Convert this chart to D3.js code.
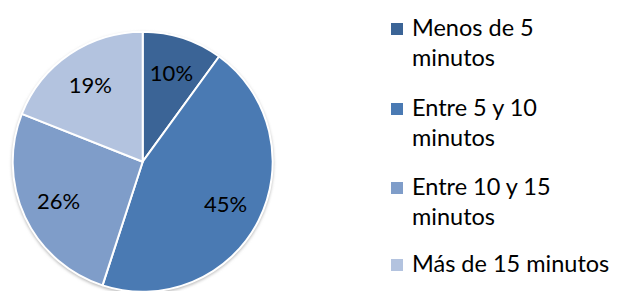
<!DOCTYPE html>
<html><head><meta charset="utf-8">
<script src="https://cdn.jsdelivr.net/npm/d3@7"></script>
<style>html,body{margin:0;padding:0;background:#fff;}svg{display:block;}</style>
</head><body>
<svg id="chart" width="620" height="291"></svg>
<script>
const categories = ["Menos de 5 minutos", "Entre 5 y 10 minutos", "Entre 10 y 15 minutos", "Más de 15 minutos"];
const legendLines = [["Menos de 5", "minutos"], ["Entre 5 y 10", "minutos"], ["Entre 10 y 15", "minutos"], ["Más de 15 minutos"]];
const values = [10, 45, 26, 19];
const colors = ["#3b6496", "#4a7ab3", "#7f9dc9", "#b3c3df"];

const svg = d3.select("#chart");
const cx = 142.7, cy = 161.7, R = 130;
const font = "Lato, 'Open Sans', sans-serif";

const defs = svg.append("defs");
const f = defs.append("filter").attr("id", "sh").attr("x", "-10%").attr("y", "-10%").attr("width", "120%").attr("height", "120%");
f.append("feGaussianBlur").attr("stdDeviation", 1.5);

const g = svg.append("g").attr("transform", `translate(${cx},${cy})`);
g.append("circle").attr("r", R + 1).attr("cy", 1.5).attr("fill", "#bdbdbd").attr("filter", "url(#sh)");

const pie = d3.pie().sort(null).value(d => d);
const arcs = pie(values);
const arc = d3.arc().innerRadius(0).outerRadius(R);
const labelArc = d3.arc().innerRadius(93).outerRadius(93);

g.selectAll("path.slice").data(arcs).join("path")
  .attr("class", "slice")
  .attr("d", arc)
  .attr("fill", (d, i) => colors[i])
  .attr("stroke", "#fff")
  .attr("stroke-width", 2)
  .attr("stroke-linejoin", "round");

g.selectAll("text.lbl").data(arcs).join("text")
  .attr("class", "lbl")
  .attr("transform", d => `translate(${labelArc.centroid(d)})`)
  .attr("text-anchor", "middle")
  .attr("dy", "0.36em")
  .attr("font-family", font)
  .attr("font-size", 22)
  .attr("fill", "#000")
  .text(d => d.data + "%");

const baselines = [36, 116, 195, 272];
const lg = svg.append("g");
legendLines.forEach((lines, i) => {
  const item = lg.append("g");
  item.append("rect").attr("x", 391).attr("y", baselines[i] - 13).attr("width", 12).attr("height", 12).attr("fill", colors[i]);
  lines.forEach((t, j) => {
    item.append("text").attr("x", 412).attr("y", baselines[i] + j * 30)
      .attr("font-family", font).attr("font-size", 23.5).attr("fill", "#000").text(t);
  });
});
</script>
</body></html>
